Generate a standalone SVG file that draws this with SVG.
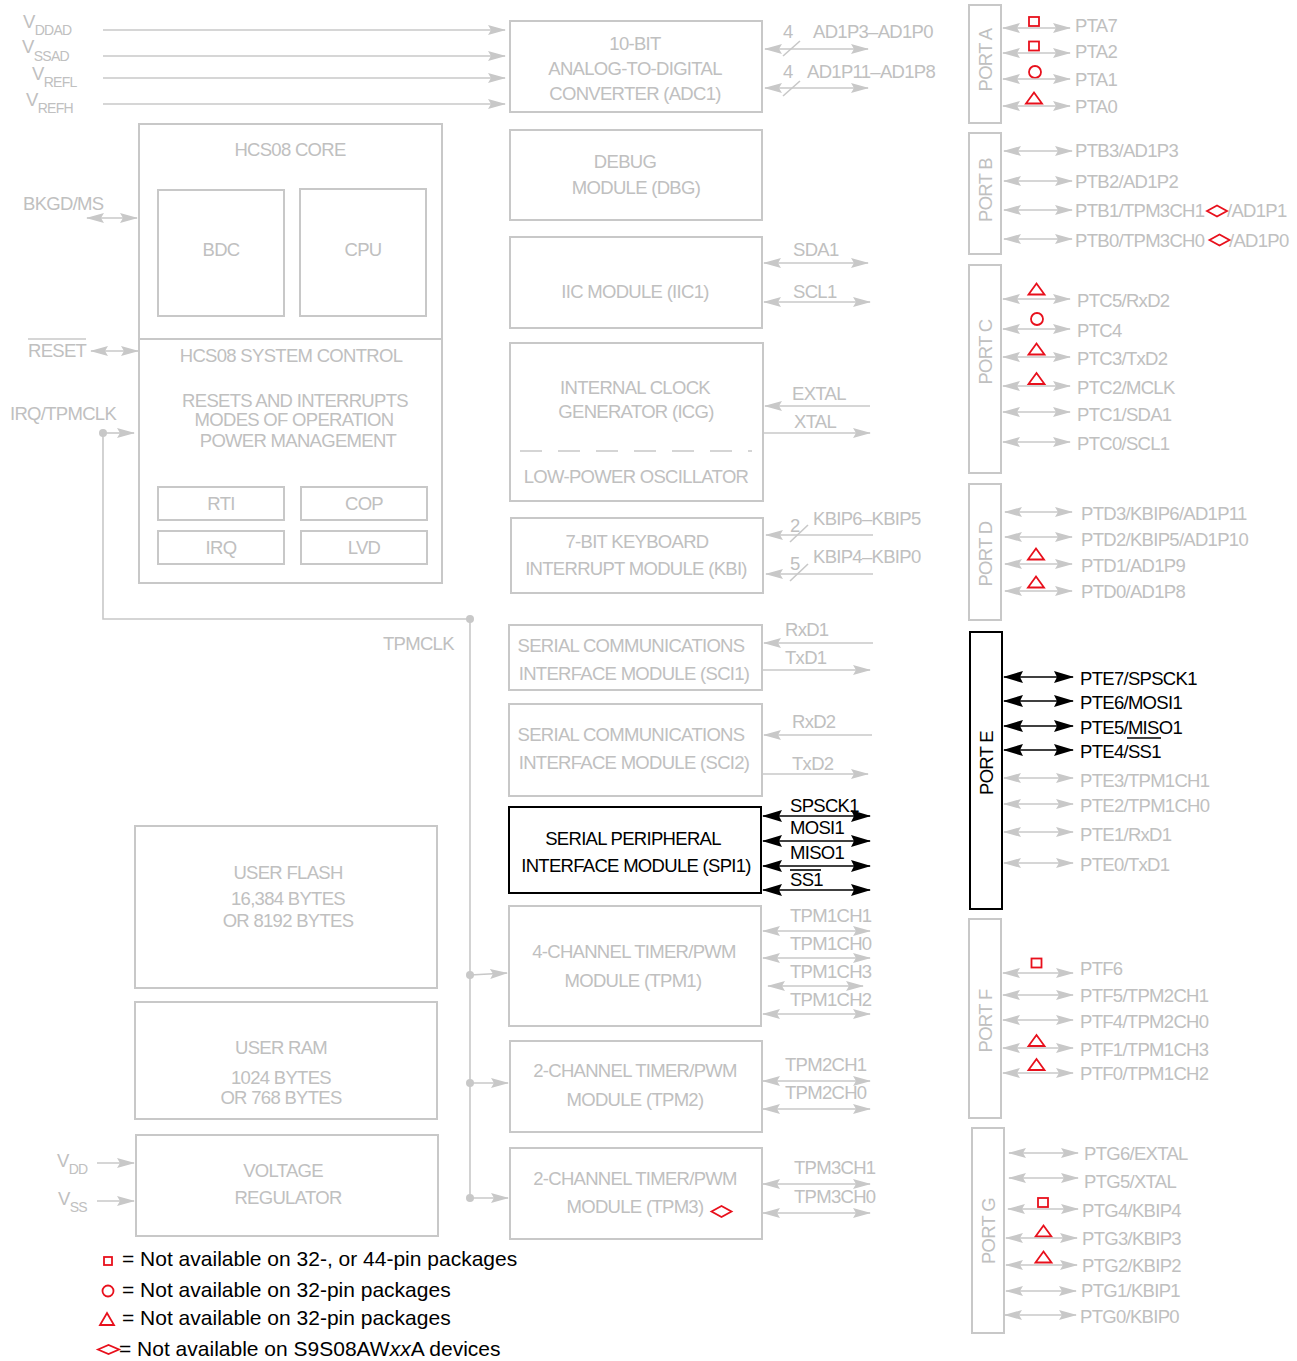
<svg xmlns="http://www.w3.org/2000/svg" width="1297" height="1361" viewBox="0 0 1297 1361">
<defs>
<style>
.bx{fill:none;stroke:#c8c8c8;stroke-width:2}
.bk{fill:none;stroke:#000;stroke-width:2}
.t{font-family:"Liberation Sans",Arial,sans-serif;font-size:18.5px;fill:#c0c0c0;letter-spacing:-0.7px}
.s{font-size:14px}
.m{text-anchor:middle}
.k{fill:#000}
.ln{fill:none;stroke:#c8c8c8;stroke-width:1.6}
.lk{fill:none;stroke:#000;stroke-width:1.6}
.a2{marker-start:url(#ag);marker-end:url(#ag)}
.a1{marker-end:url(#ag)}
.k2{marker-start:url(#ak);marker-end:url(#ak)}
.r{fill:none;stroke:#e8101c;stroke-width:1.8}
.lg{font-family:"Liberation Sans",Arial,sans-serif;font-size:21px;fill:#000}
.dot{fill:#c8c8c8}
</style>
<marker id="ag" viewBox="0 0 18 10" refX="17" refY="5" markerWidth="18" markerHeight="10" markerUnits="userSpaceOnUse" orient="auto-start-reverse"><path d="M0,0 L18,5 L0,10 L3,5z" fill="#c8c8c8"/></marker>
<marker id="ak" viewBox="0 0 20 12" refX="19" refY="6" markerWidth="20" markerHeight="12" markerUnits="userSpaceOnUse" orient="auto-start-reverse"><path d="M0,0 L20,6 L0,12 L3,6z" fill="#000"/></marker>
<rect id="sq" class="r" x="-5" y="-4.5" width="10" height="9"/>
<circle id="ci" class="r" r="6"/>
<polygon id="tr" class="r" points="-8,5.5 8,5.5 0,-5.5"/>
<polygon id="di" class="r" points="-10,0 0,-5.5 10,0 0,5.5"/>
</defs>
<rect width="1297" height="1361" fill="#fff"/>

<g id="supply-labels">
<text class="t" x="23" y="28">V<tspan class="s" dy="7">DDAD</tspan></text>
<text class="t" x="22" y="53">V<tspan class="s" dy="8">SSAD</tspan></text>
<text class="t" x="32" y="80">V<tspan class="s" dy="7">REFL</tspan></text>
<text class="t" x="26" y="106">V<tspan class="s" dy="7">REFH</tspan></text>
<text class="t" x="23" y="210">BKGD/MS</text>
<text class="t" x="28" y="357">RESET</text>
<line class="ln" x1="28" y1="339" x2="86" y2="339" stroke-width="1.2"/>
<text class="t" x="10" y="420">IRQ/TPMCLK</text>
<text class="t" x="383" y="650">TPMCLK</text>
<text class="t" x="57" y="1167">V<tspan class="s" dy="7">DD</tspan></text>
<text class="t" x="58" y="1205">V<tspan class="s" dy="7">SS</tspan></text>
</g>

<g id="adc">
<rect class="bx" x="510" y="21" width="252" height="91"/>
<text class="t m" x="635" y="50">10-BIT</text>
<text class="t m" x="635" y="75">ANALOG-TO-DIGITAL</text>
<text class="t m" x="635" y="100">CONVERTER (ADC1)</text>
</g>

<g id="hcs08-core">
<rect class="bx" x="139" y="124" width="303" height="459"/>
<line class="bx" x1="139" y1="339" x2="442" y2="339"/>
<text class="t m" x="290" y="156">HCS08 CORE</text>
<g id="bdc"><rect class="bx" x="158" y="190" width="126" height="126"/><text class="t m" x="221" y="256">BDC</text></g>
<g id="cpu"><rect class="bx" x="300" y="189" width="126" height="127"/><text class="t m" x="363" y="256">CPU</text></g>
<text class="t m" x="291" y="362">HCS08 SYSTEM CONTROL</text>
<text class="t m" x="295" y="407">RESETS AND INTERRUPTS</text>
<text class="t m" x="294" y="426">MODES OF OPERATION</text>
<text class="t m" x="298" y="447">POWER MANAGEMENT</text>
<g id="rti"><rect class="bx" x="158" y="487" width="126" height="33"/><text class="t m" x="221" y="510">RTI</text></g>
<g id="cop"><rect class="bx" x="301" y="487" width="126" height="33"/><text class="t m" x="364" y="510">COP</text></g>
<g id="irq"><rect class="bx" x="158" y="531" width="126" height="33"/><text class="t m" x="221" y="554">IRQ</text></g>
<g id="lvd"><rect class="bx" x="301" y="531" width="126" height="33"/><text class="t m" x="364" y="554">LVD</text></g>
</g>

<g id="dbg">
<rect class="bx" x="510" y="130" width="252" height="90"/>
<text class="t m" x="625" y="168">DEBUG</text>
<text class="t m" x="636" y="194">MODULE (DBG)</text>
</g>

<g id="iic">
<rect class="bx" x="510" y="237" width="252" height="91"/>
<text class="t m" x="635" y="298">IIC MODULE (IIC1)</text>
</g>

<g id="icg">
<rect class="bx" x="510" y="343" width="253" height="158"/>
<text class="t m" x="635" y="394">INTERNAL CLOCK</text>
<text class="t m" x="636" y="418">GENERATOR (ICG)</text>
<line class="ln" x1="520" y1="451" x2="752" y2="451" stroke-dasharray="22,16"/>
<text class="t m" x="636" y="483">LOW-POWER OSCILLATOR</text>
</g>

<g id="kbi">
<rect class="bx" x="511" y="518" width="252" height="75"/>
<text class="t m" x="637" y="548">7-BIT KEYBOARD</text>
<text class="t m" x="636" y="575">INTERRUPT MODULE (KBI)</text>
</g>

<g id="sci1">
<rect class="bx" x="509" y="625" width="253" height="65"/>
<text class="t m" x="631" y="652">SERIAL COMMUNICATIONS</text>
<text class="t m" x="634" y="680">INTERFACE MODULE (SCI1)</text>
</g>

<g id="sci2">
<rect class="bx" x="509" y="704" width="253" height="92"/>
<text class="t m" x="631" y="741">SERIAL COMMUNICATIONS</text>
<text class="t m" x="634" y="769">INTERFACE MODULE (SCI2)</text>
</g>

<g id="spi1">
<rect class="bk" x="509" y="807" width="252" height="86"/>
<text class="t m k" x="633" y="845">SERIAL PERIPHERAL</text>
<text class="t m k" x="636" y="872">INTERFACE MODULE (SPI1)</text>
</g>

<g id="tpm1">
<rect class="bx" x="509" y="906" width="252" height="120"/>
<text class="t m" x="634" y="958">4-CHANNEL TIMER/PWM</text>
<text class="t m" x="633" y="987">MODULE (TPM1)</text>
</g>

<g id="tpm2">
<rect class="bx" x="510" y="1041" width="252" height="91"/>
<text class="t m" x="635" y="1077">2-CHANNEL TIMER/PWM</text>
<text class="t m" x="635" y="1106">MODULE (TPM2)</text>
</g>

<g id="tpm3">
<rect class="bx" x="510" y="1148" width="252" height="91"/>
<text class="t m" x="635" y="1185">2-CHANNEL TIMER/PWM</text>
<text class="t m" x="635" y="1213">MODULE (TPM3)</text>
<use href="#di" x="721.5" y="1211.5"/>
</g>

<g id="flash">
<rect class="bx" x="135" y="826" width="302" height="162"/>
<text class="t m" x="288" y="879">USER FLASH</text>
<text class="t m" x="288" y="905">16,384 BYTES</text>
<text class="t m" x="288" y="927">OR 8192 BYTES</text>
</g>

<g id="ram">
<rect class="bx" x="135" y="1002" width="302" height="117"/>
<text class="t m" x="281" y="1054">USER RAM</text>
<text class="t m" x="281" y="1084">1024 BYTES</text>
<text class="t m" x="281" y="1104">OR 768 BYTES</text>
</g>

<g id="vreg">
<rect class="bx" x="136" y="1135" width="302" height="101"/>
<text class="t m" x="283" y="1177">VOLTAGE</text>
<text class="t m" x="288" y="1204">REGULATOR</text>
</g>

<g id="port-a">
<rect class="bx" x="969" y="5" width="32" height="118"/>
<text class="t m" transform="translate(992,60) rotate(-90)">PORT A</text>
<text class="t" x="1075" y="32">PTA7</text>
<text class="t" x="1075" y="58">PTA2</text>
<text class="t" x="1075" y="86">PTA1</text>
<text class="t" x="1075" y="113">PTA0</text>
<use href="#sq" x="1034" y="21.5"/>
<use href="#sq" x="1034" y="46"/>
<use href="#ci" x="1035" y="72"/>
<use href="#tr" x="1034" y="98"/>
</g>

<g id="port-b">
<rect class="bx" x="969" y="133" width="32" height="121"/>
<text class="t m" transform="translate(992,190) rotate(-90)">PORT B</text>
<text class="t" x="1075" y="157">PTB3/AD1P3</text>
<text class="t" x="1075" y="188">PTB2/AD1P2</text>
<text class="t" x="1075" y="217">PTB1/TPM3CH1</text>
<text class="t" x="1227" y="217">/AD1P1</text>
<text class="t" x="1075" y="247">PTB0/TPM3CH0</text>
<text class="t" x="1229" y="247">/AD1P0</text>
<use href="#di" x="1217" y="211"/>
<use href="#di" x="1219.5" y="240"/>
</g>

<g id="port-c">
<rect class="bx" x="969" y="265" width="32" height="208"/>
<text class="t m" transform="translate(992,352) rotate(-90)">PORT C</text>
<text class="t" x="1077" y="307">PTC5/RxD2</text>
<text class="t" x="1077" y="337">PTC4</text>
<text class="t" x="1077" y="365">PTC3/TxD2</text>
<text class="t" x="1077" y="394">PTC2/MCLK</text>
<text class="t" x="1077" y="421">PTC1/SDA1</text>
<text class="t" x="1077" y="450">PTC0/SCL1</text>
<use href="#tr" x="1036.5" y="289"/>
<use href="#ci" x="1037" y="319"/>
<use href="#tr" x="1036.5" y="349"/>
<use href="#tr" x="1036.5" y="378.5"/>
</g>

<g id="port-d">
<rect class="bx" x="969" y="484" width="32" height="136"/>
<text class="t m" transform="translate(992,554) rotate(-90)">PORT D</text>
<text class="t" x="1081" y="520">PTD3/KBIP6/AD1P11</text>
<text class="t" x="1081" y="546">PTD2/KBIP5/AD1P10</text>
<text class="t" x="1081" y="572">PTD1/AD1P9</text>
<text class="t" x="1081" y="598">PTD0/AD1P8</text>
<use href="#tr" x="1036" y="554"/>
<use href="#tr" x="1036" y="582"/>
</g>

<g id="port-e">
<rect class="bk" x="970" y="632" width="32" height="277"/>
<text class="t m k" transform="translate(993,763) rotate(-90)">PORT E</text>
<text class="t k" x="1080" y="685">PTE7/SPSCK1</text>
<text class="t k" x="1080" y="709">PTE6/MOSI1</text>
<text class="t k" x="1080" y="734">PTE5/MISO1</text>
<text class="t k" x="1080" y="758">PTE4/SS1</text>
<line class="lk" x1="1127" y1="738" x2="1161" y2="738" stroke-width="1.2"/>
<text class="t" x="1080" y="787">PTE3/TPM1CH1</text>
<text class="t" x="1080" y="812">PTE2/TPM1CH0</text>
<text class="t" x="1080" y="841">PTE1/RxD1</text>
<text class="t" x="1080" y="871">PTE0/TxD1</text>
</g>

<g id="port-f">
<rect class="bx" x="969" y="919" width="32" height="199"/>
<text class="t m" transform="translate(992,1021) rotate(-90)">PORT F</text>
<text class="t" x="1080" y="975">PTF6</text>
<text class="t" x="1080" y="1002">PTF5/TPM2CH1</text>
<text class="t" x="1080" y="1028">PTF4/TPM2CH0</text>
<text class="t" x="1080" y="1056">PTF1/TPM1CH3</text>
<text class="t" x="1080" y="1080">PTF0/TPM1CH2</text>
<use href="#sq" x="1036.5" y="963"/>
<use href="#tr" x="1036.5" y="1040.5"/>
<use href="#tr" x="1036.5" y="1064.5"/>
</g>

<g id="port-g">
<rect class="bx" x="972" y="1128" width="32" height="205"/>
<text class="t m" transform="translate(995,1231) rotate(-90)">PORT G</text>
<text class="t" x="1084" y="1160">PTG6/EXTAL</text>
<text class="t" x="1084" y="1188">PTG5/XTAL</text>
<text class="t" x="1082" y="1217">PTG4/KBIP4</text>
<text class="t" x="1082" y="1245">PTG3/KBIP3</text>
<text class="t" x="1082" y="1272">PTG2/KBIP2</text>
<text class="t" x="1081" y="1297">PTG1/KBIP1</text>
<text class="t" x="1080" y="1323">PTG0/KBIP0</text>
<use href="#sq" x="1043" y="1202.5"/>
<use href="#tr" x="1043.5" y="1231"/>
<use href="#tr" x="1043.5" y="1257"/>
</g>

<g id="legend">
<rect class="r" x="104" y="1257" width="8" height="8"/>
<text class="lg" x="122" y="1266">= Not available on 32-, or 44-pin packages</text>
<circle class="r" cx="108" cy="1291" r="5.5"/>
<text class="lg" x="122" y="1297">= Not available on 32-pin packages</text>
<polygon class="r" points="100,1325 114,1325 107,1313"/>
<text class="lg" x="122" y="1325">= Not available on 32-pin packages</text>
<polygon class="r" points="98,1349.5 108.5,1345 119,1349.5 108.5,1354"/>
<text class="lg" x="119" y="1356">= Not available on S9S08AW<tspan font-style="italic">xx</tspan>A devices</text>
</g>

<g id="connectors">
<line class="ln a1" x1="103" y1="30" x2="505" y2="30"/>
<line class="ln a1" x1="103" y1="56" x2="505" y2="56"/>
<line class="ln a1" x1="103" y1="78" x2="505" y2="78"/>
<line class="ln a1" x1="103" y1="104" x2="505" y2="104"/>
<line class="ln a2" x1="765" y1="49" x2="868" y2="49"/>
<line class="ln a2" x1="765" y1="88" x2="868" y2="88"/>
<line class="ln" x1="783" y1="56" x2="800" y2="41"/>
<line class="ln" x1="783" y1="96" x2="800" y2="81"/>
<text class="t" x="783" y="38">4</text>
<text class="t" x="813" y="38">AD1P3–AD1P0</text>
<text class="t" x="783" y="78">4</text>
<text class="t" x="807" y="78">AD1P11–AD1P8</text>

<line class="ln a2" x1="87" y1="218" x2="137" y2="218"/>
<line class="ln a2" x1="91" y1="351" x2="138" y2="351"/>
<circle class="dot" cx="103" cy="433" r="4"/>
<line class="ln a1" x1="103" y1="433" x2="134" y2="433"/>
<polyline class="ln" points="103,433 103,619 470,619 470,1198"/>
<circle class="dot" cx="470" cy="619" r="4"/>
<circle class="dot" cx="470" cy="975" r="4"/>
<circle class="dot" cx="470" cy="1083" r="4"/>
<circle class="dot" cx="470" cy="1198" r="4"/>
<line class="ln a1" x1="470" y1="975" x2="507" y2="973"/>
<line class="ln a1" x1="470" y1="1083" x2="508" y2="1083"/>
<line class="ln a1" x1="470" y1="1198" x2="508" y2="1198"/>
<line class="ln a1" x1="97" y1="1163" x2="134" y2="1163"/>
<line class="ln a1" x1="97" y1="1201" x2="134" y2="1201"/>

<line class="ln a2" x1="764" y1="263" x2="868" y2="263"/>
<line class="ln a2" x1="764" y1="302" x2="870" y2="302"/>
<text class="t" x="793" y="256">SDA1</text>
<text class="t" x="793" y="298">SCL1</text>

<line class="ln a1" x1="870" y1="406" x2="765" y2="406"/>
<line class="ln a1" x1="763" y1="433" x2="870" y2="433"/>
<text class="t" x="792" y="400">EXTAL</text>
<text class="t" x="794" y="428">XTAL</text>

<line class="ln a1" x1="873" y1="535" x2="766" y2="535"/>
<line class="ln a1" x1="873" y1="574" x2="766" y2="574"/>
<line class="ln" x1="790" y1="542" x2="808" y2="525"/>
<line class="ln" x1="790" y1="581" x2="808" y2="564"/>
<text class="t" x="790" y="532">2</text>
<text class="t" x="790" y="570">5</text>
<text class="t" x="813" y="525">KBIP6–KBIP5</text>
<text class="t" x="813" y="563">KBIP4–KBIP0</text>

<line class="ln a1" x1="873" y1="643" x2="764" y2="643"/>
<line class="ln a1" x1="763" y1="670" x2="870" y2="670"/>
<text class="t" x="785" y="636">RxD1</text>
<text class="t" x="785" y="664">TxD1</text>
<line class="ln a1" x1="872" y1="735" x2="764" y2="735"/>
<line class="ln a1" x1="763" y1="774" x2="868" y2="774"/>
<text class="t" x="792" y="728">RxD2</text>
<text class="t" x="792" y="770">TxD2</text>

<line class="lk k2" x1="763" y1="816" x2="870" y2="816"/>
<line class="lk k2" x1="763" y1="841" x2="870" y2="841"/>
<line class="lk k2" x1="763" y1="866" x2="870" y2="866"/>
<line class="lk k2" x1="763" y1="890" x2="870" y2="890"/>
<text class="t k" x="790" y="812">SPSCK1</text>
<text class="t k" x="790" y="834">MOSI1</text>
<text class="t k" x="790" y="859">MISO1</text>
<text class="t k" x="790" y="886">SS1</text>
<line class="lk" x1="790" y1="870" x2="821" y2="870" stroke-width="1.2"/>

<line class="ln a2" x1="763" y1="931" x2="870" y2="931"/>
<line class="ln a2" x1="763" y1="958" x2="870" y2="958"/>
<line class="ln a2" x1="768" y1="986" x2="863" y2="986"/>
<line class="ln a2" x1="763" y1="1014" x2="870" y2="1014"/>
<text class="t" x="790" y="922">TPM1CH1</text>
<text class="t" x="790" y="950">TPM1CH0</text>
<text class="t" x="790" y="978">TPM1CH3</text>
<text class="t" x="790" y="1006">TPM1CH2</text>
<line class="ln a2" x1="763" y1="1081" x2="870" y2="1081"/>
<line class="ln a2" x1="763" y1="1109" x2="870" y2="1109"/>
<text class="t" x="785" y="1071">TPM2CH1</text>
<text class="t" x="785" y="1099">TPM2CH0</text>
<line class="ln a2" x1="763" y1="1184" x2="870" y2="1184"/>
<line class="ln a2" x1="763" y1="1213" x2="870" y2="1213"/>
<text class="t" x="794" y="1174">TPM3CH1</text>
<text class="t" x="794" y="1203">TPM3CH0</text>

<line class="ln a2" x1="1003" y1="28" x2="1070" y2="28"/>
<line class="ln a2" x1="1003" y1="53" x2="1070" y2="53"/>
<line class="ln a2" x1="1003" y1="79" x2="1070" y2="79"/>
<line class="ln a2" x1="1003" y1="106" x2="1070" y2="106"/>
<line class="ln a2" x1="1004" y1="151" x2="1072" y2="151"/>
<line class="ln a2" x1="1004" y1="181" x2="1072" y2="181"/>
<line class="ln a2" x1="1004" y1="210" x2="1072" y2="210"/>
<line class="ln a2" x1="1004" y1="239" x2="1072" y2="239"/>
<line class="ln a2" x1="1003" y1="299" x2="1070" y2="299"/>
<line class="ln a2" x1="1003" y1="329" x2="1070" y2="329"/>
<line class="ln a2" x1="1003" y1="357" x2="1070" y2="357"/>
<line class="ln a2" x1="1003" y1="386" x2="1070" y2="386"/>
<line class="ln a2" x1="1003" y1="412" x2="1070" y2="412"/>
<line class="ln a2" x1="1003" y1="442" x2="1070" y2="442"/>
<line class="ln a2" x1="1005" y1="512" x2="1072" y2="512"/>
<line class="ln a2" x1="1005" y1="537" x2="1072" y2="537"/>
<line class="ln a2" x1="1005" y1="564" x2="1072" y2="564"/>
<line class="ln a2" x1="1005" y1="591" x2="1072" y2="591"/>
<line class="lk k2" x1="1004" y1="677" x2="1073" y2="677"/>
<line class="lk k2" x1="1004" y1="701" x2="1073" y2="701"/>
<line class="lk k2" x1="1004" y1="726" x2="1073" y2="726"/>
<line class="lk k2" x1="1004" y1="750" x2="1073" y2="750"/>
<line class="ln a2" x1="1004" y1="778" x2="1073" y2="778"/>
<line class="ln a2" x1="1004" y1="804" x2="1073" y2="804"/>
<line class="ln a2" x1="1004" y1="832" x2="1073" y2="832"/>
<line class="ln a2" x1="1004" y1="863" x2="1073" y2="863"/>
<line class="ln a2" x1="1003" y1="973" x2="1073" y2="973"/>
<line class="ln a2" x1="1003" y1="995" x2="1073" y2="995"/>
<line class="ln a2" x1="1003" y1="1020" x2="1073" y2="1020"/>
<line class="ln a2" x1="1003" y1="1048" x2="1073" y2="1048"/>
<line class="ln a2" x1="1003" y1="1073" x2="1073" y2="1073"/>
<line class="ln a2" x1="1009" y1="1153" x2="1078" y2="1153"/>
<line class="ln a2" x1="1009" y1="1178" x2="1078" y2="1178"/>
<line class="ln a2" x1="1008" y1="1209" x2="1078" y2="1209"/>
<line class="ln a2" x1="1006" y1="1238" x2="1077" y2="1238"/>
<line class="ln a2" x1="1006" y1="1265" x2="1077" y2="1265"/>
<line class="ln a2" x1="1006" y1="1291" x2="1076" y2="1291"/>
<line class="ln a2" x1="1005" y1="1315" x2="1076" y2="1315"/>
</g>
</svg>
